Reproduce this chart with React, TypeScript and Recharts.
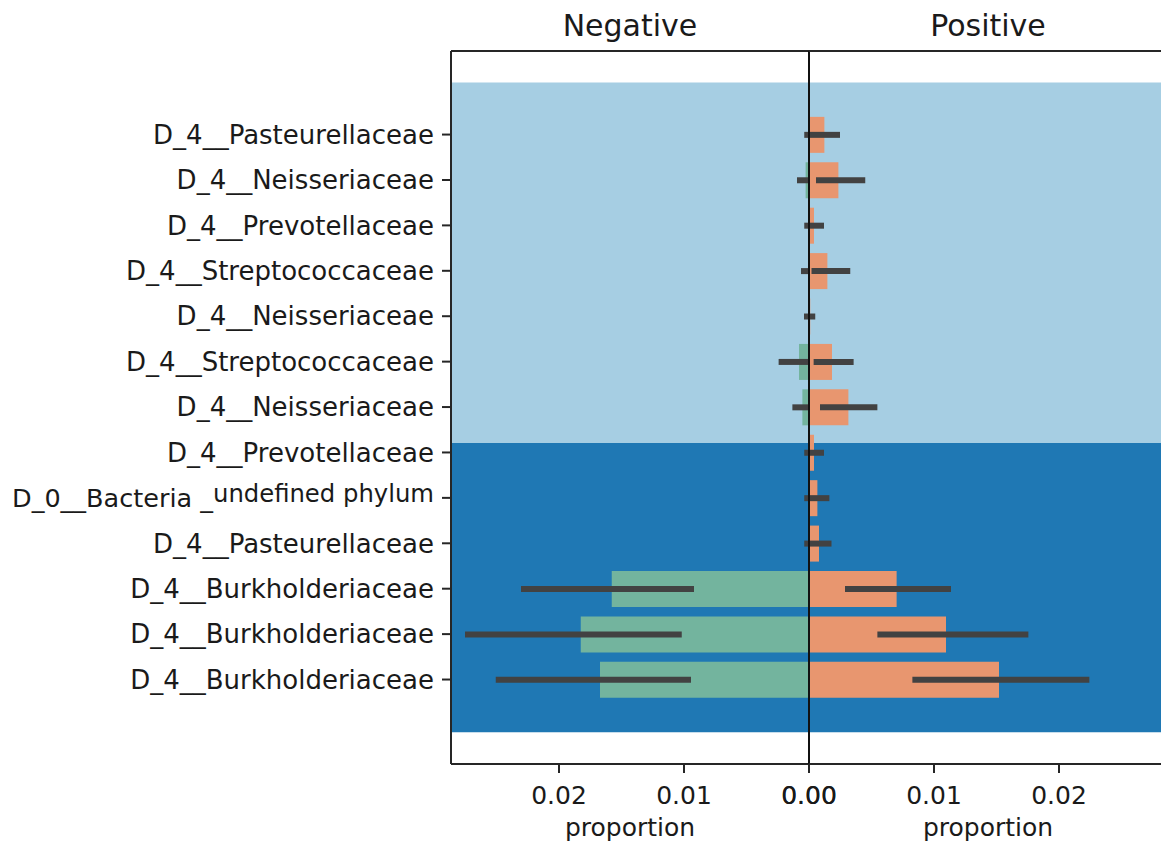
import React from "react";
import {
  Bar,
  BarChart,
  ErrorBar,
  ReferenceArea,
  ReferenceLine,
  XAxis,
  YAxis,
} from "recharts";

const categories = [
  "D_4__Pasteurellaceae",
  "D_4__Neisseriaceae",
  "D_4__Prevotellaceae",
  "D_4__Streptococcaceae",
  "D_4__Neisseriaceae",
  "D_4__Streptococcaceae",
  "D_4__Neisseriaceae",
  "D_4__Prevotellaceae",
  "D_0__Bacteria _undefined phylum",
  "D_4__Pasteurellaceae",
  "D_4__Burkholderiaceae",
  "D_4__Burkholderiaceae",
  "D_4__Burkholderiaceae",
];

// Negative group: mean proportion and interval bounds
const negMean = [0.00002, 0.00027, 0.00002, 0.00003, 0.00002, 0.0008, 0.00053, 0.00002, 0.00002, 0.00002, 0.01578, 0.01826, 0.01672];
const negLow = [-0.0003, -0.0004, -0.0003, -0.0004, -0.0003, -0.0008, -0.0003, -0.0003, -0.0003, -0.0003, 0.0092, 0.01018, 0.00944];
const negHigh = [0.00038, 0.00096, 0.00038, 0.00064, 0.0004, 0.00243, 0.00133, 0.00038, 0.00038, 0.00038, 0.02304, 0.02752, 0.02506];

// Positive group
const posMean = [0.00123, 0.00235, 0.0004, 0.00147, 0.0001, 0.00184, 0.00315, 0.0004, 0.00067, 0.0008, 0.00701, 0.01096, 0.0152];
const posLow = [-0.0002, 0.00056, -0.0004, 0.0002, -0.0003, 0.00037, 0.00088, -0.0004, -0.0003, -0.0002, 0.00288, 0.00547, 0.00827];
const posHigh = [0.00248, 0.0045, 0.0012, 0.0033, 0.0005, 0.00357, 0.00547, 0.0012, 0.00163, 0.0018, 0.01136, 0.01755, 0.02243];

// background groups (row units)
const bandEdges = [-1.145, 6.79, 13.16];
const bandColors = ["#a6cee3", "#1f78b4"];

const xTicks = [0, 0.01, 0.02];
const xMax = 0.02864;
const yDomain = [-1.84, 13.86];
const rowTicks = categories.map((_, i) => i);

const data = categories.map((label, i) => ({
  idx: i,
  label,
  neg: negMean[i],
  negErr: [negMean[i] - Math.max(0, negLow[i]), negHigh[i] - negMean[i]],
  pos: posMean[i],
  posErr: [posMean[i] - Math.max(0, posLow[i]), posHigh[i] - posMean[i]],
}));

const TEXT = "#1a1a1a";
const SPINE = "#262626";
const FONT = "'DejaVu Sans', sans-serif";

const YTick = ({ x, y, payload }: any) => {
  const label = categories[payload.value] ?? "";
  const cut = label.indexOf("undefined");
  return (
    <text x={x} y={y} dy="0.355em" textAnchor="end" fontSize={26} fill={TEXT} fontFamily={FONT}>
      {cut > 0 ? (
        <>
          <tspan fontSize={25.5}>{label.slice(0, cut)}</tspan>
          <tspan dy={-5} fontSize={24.3}>{label.slice(cut)}</tspan>
        </>
      ) : (
        label
      )}
    </text>
  );
};

const tickStyle = { fontSize: 25, fill: TEXT, fontFamily: FONT };
const lineStyle = { stroke: SPINE, strokeWidth: 2 };

function Panel({ side }: { side: "neg" | "pos" }) {
  const isNeg = side === "neg";
  return (
    <BarChart
      layout="vertical"
      width={isNeg ? 810 : 360}
      height={846}
      data={data}
      margin={{ top: 51, right: 1, left: isNeg ? 0 : 1, bottom: 0 }}
    >
      {bandColors.map((c, i) => (
        <ReferenceArea
          key={c}
          y1={bandEdges[i]}
          y2={bandEdges[i + 1]}
          fill={c}
          fillOpacity={1}
          stroke="none"
        />
      ))}
      <XAxis
        type="number"
        domain={[0, xMax]}
        reversed={isNeg}
        ticks={xTicks}
        interval={0}
        tickFormatter={(v: number) => v.toFixed(2)}
        allowDataOverflow
        height={82}
        tickSize={9}
        tickMargin={13}
        tick={tickStyle}
        axisLine={lineStyle}
        tickLine={lineStyle}
        label={{ value: "proportion", position: "insideBottom", offset: 10, fontSize: 25, fill: TEXT, fontFamily: FONT }}
      />
      <YAxis
        type="number"
        dataKey="idx"
        domain={yDomain}
        ticks={rowTicks}
        interval={0}
        width={isNeg ? 451 : 0}
        tickSize={9}
        tickMargin={8}
        tick={isNeg ? <YTick /> : false}
        tickLine={isNeg ? lineStyle : false}
        axisLine={isNeg ? lineStyle : false}
      />
      <Bar
        dataKey={side}
        fill={isNeg ? "#73b49e" : "#e8966f"}
        barSize={36}
        isAnimationActive={false}
      >
        <ErrorBar
          dataKey={isNeg ? "negErr" : "posErr"}
          direction="x"
          width={0}
          stroke="#424242"
          strokeWidth={6}
        />
      </Bar>
      {/* zero line shared by both panels, and the top frame */}
      <ReferenceLine x={0} stroke="#111" strokeWidth={2} />
      <ReferenceLine y={yDomain[0]} stroke={SPINE} strokeWidth={2} />
    </BarChart>
  );
}

export default function App() {
  return (
    <div
      style={{
        position: "fixed",
        left: 0,
        top: 0,
        width: 1161,
        height: 846,
        overflow: "hidden",
        background: "#fff",
        fontFamily: FONT,
      }}
    >
      <style>{`.recharts-surface { overflow: visible; }`}</style>
      <div style={{ position: "absolute", left: 0, top: 0 }}>
        <Panel side="neg" />
      </div>
      <div style={{ position: "absolute", left: 808, top: 0 }}>
        <Panel side="pos" />
      </div>
      <svg
        width={1161}
        height={50}
        style={{ position: "absolute", left: 0, top: 0 }}
      >
        <text x={630} y={36} textAnchor="middle" fontSize={30} fill={TEXT} fontFamily={FONT}>
          Negative
        </text>
        <text x={988} y={36} textAnchor="middle" fontSize={30} fill={TEXT} fontFamily={FONT}>
          Positive
        </text>
      </svg>
    </div>
  );
}
